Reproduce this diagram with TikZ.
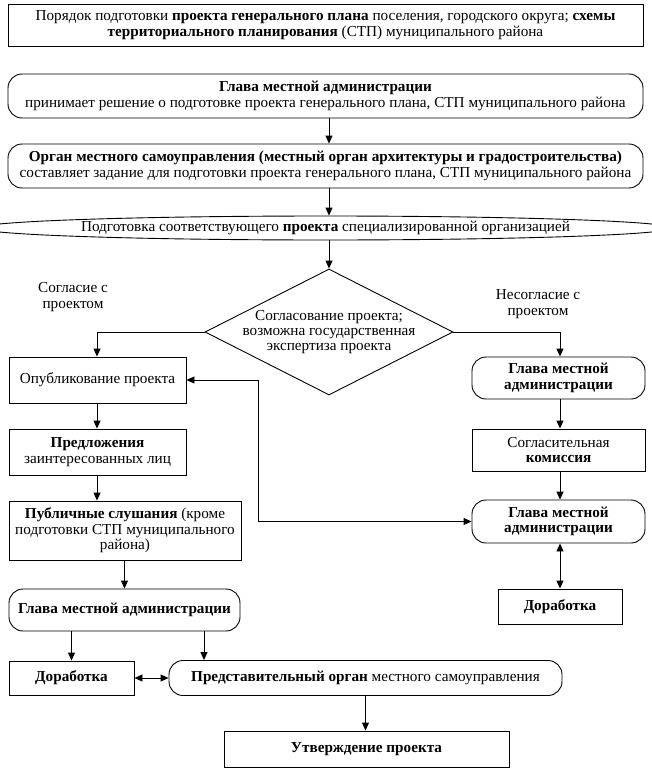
\documentclass[tikz,border=0pt]{standalone}
\usepackage{fontspec}
\setmainfont{Liberation Serif}
\usetikzlibrary{arrows.meta,shapes.geometric}
\newcommand\myfs{\fontsize{15.2}{15.4}\selectfont}
\tikzset{
  box/.style={draw, line width=0.9pt, inner sep=1pt, align=center, font=\myfs},
  rbox/.style={box, rounded corners=14pt},
  lbl/.style={inner sep=0pt, align=center, font=\myfs},
  arr/.style={-{Triangle[length=8pt,width=7pt]}, line width=0.9pt},
  arrtwo/.style={{Triangle[length=8pt,width=7pt]}-{Triangle[length=8pt,width=7pt]}, line width=0.9pt},
  conn/.style={line width=0.9pt}
}
\begin{document}
\begin{tikzpicture}[x=1pt,y=-1pt]
\useasboundingbox (0,0) rectangle (651,768);
% top
\node[box, minimum width=635, minimum height=42] (top) at (325.5,25)
  {Порядок подготовки \textbf{проекта генерального плана} поселения, городского округа; \textbf{схемы}\\
   \textbf{территориального планирования} (СТП) муниципального района};
\node[rbox, minimum width=635, minimum height=44] (g1) at (325.5,96)
  {\textbf{Глава местной администрации}\\
   принимает решение о подготовке проекта генерального плана, СТП муниципального района};
\node[rbox, minimum width=635, minimum height=44] (org) at (325.5,166)
  {\textbf{Орган местного самоуправления (местный орган архитектуры и градостроительства)}\\
   составляет задание для подготовки проекта генерального плана, СТП муниципального района};
\node[box, ellipse, inner sep=0pt, minimum width=643, minimum height=24] (ell) at (325.5,228)
  {Подготовка соответствующего \textbf{проекта} специализированной организацией};
\node[draw, line width=0.9pt, diamond, inner sep=0pt, minimum width=248, minimum height=126,
  label={[lbl]center:Согласование проекта;\\возможна государственная\\экспертиза проекта}] (d) at (329,332) {};
\node[lbl] (yes) at (73,297) {Согласие с\\проектом};
\node[lbl] (no) at (538,304) {Несогласие с\\проектом};
% left column
\node[box, minimum width=177, minimum height=46] (pub) at (97.5,380) {Опубликование проекта};
\node[box, minimum width=177, minimum height=46] (pred) at (97.5,452) {\textbf{Предложения}\\заинтересованных лиц};
\node[box, minimum width=232, minimum height=59] (slush) at (125,530.5)
  {\textbf{Публичные слушания} (кроме\\подготовки СТП муниципального\\района)};
\node[rbox, minimum width=231, minimum height=42] (g4) at (124.5,610) {\textbf{Глава местной администрации}};
\node[box, minimum width=125, minimum height=34] (dor1) at (71.5,678) {\textbf{Доработка}};
\node[rbox, minimum width=393, minimum height=35] (rep) at (365.5,678)
  {\textbf{Представительный орган} местного самоуправления};
\node[box, minimum width=285, minimum height=36] (utv) at (366.5,749) {\textbf{Утверждение проекта}};
% right column
\node[rbox, minimum width=173, minimum height=42] (g2) at (558.5,378) {\textbf{Глава местной}\\\textbf{администрации}};
\node[box, minimum width=173, minimum height=42] (sogl) at (558.5,450) {Согласительная\\\textbf{комиссия}};
\node[rbox, minimum width=173, minimum height=43] (g3) at (558.5,521.5) {\textbf{Глава местной}\\\textbf{администрации}};
\node[box, minimum width=124, minimum height=35] (dor2) at (560,606.5) {\textbf{Доработка}};
\coordinate (cx) at (329,0);
\coordinate (cfb) at (258,0);
\coordinate (crep) at (204,0);
\coordinate (cleft) at (97,0);
\coordinate (cright) at (560,0);
% connectors
\draw[arr] (g1.south -| cx) -- (org.north -| cx);
\draw[arr] (org.south -| cx) -- (ell.north -| cx);
\draw[arr] (ell.south -| cx) -- (d.north);
\draw[arr] (d.west) -| (pub.north -| cleft);
\draw[arr] (d.east) -| (g2.north -| cright);
\draw[arr] (pub.south -| cleft) -- (pred.north -| cleft);
\draw[arr] (pred.south -| cleft) -- (slush.north -| cleft);
\draw[arr] (slush.south -| g4.north) -- (g4.north);
\draw[arr] (g4.south -| dor1.north) -- (dor1.north);
\draw[arr] (g4.south -| crep) -- (rep.north -| crep);
\draw[arrtwo] (dor1.east) -- (rep.west);
\draw[arr] (rep.south) -- (rep.south |- utv.north);
\draw[arr] (g2.south -| cright) -- (sogl.north -| cright);
\draw[arr] (sogl.south -| cright) -- (g3.north -| cright);
\draw[arrtwo] (g3.south -| cright) -- (dor2.north -| cright);
\draw[arrtwo] (pub.east) -- (pub.east -| cfb) -- (cfb |- g3.west) -- (g3.west);
\end{tikzpicture}
\end{document}
